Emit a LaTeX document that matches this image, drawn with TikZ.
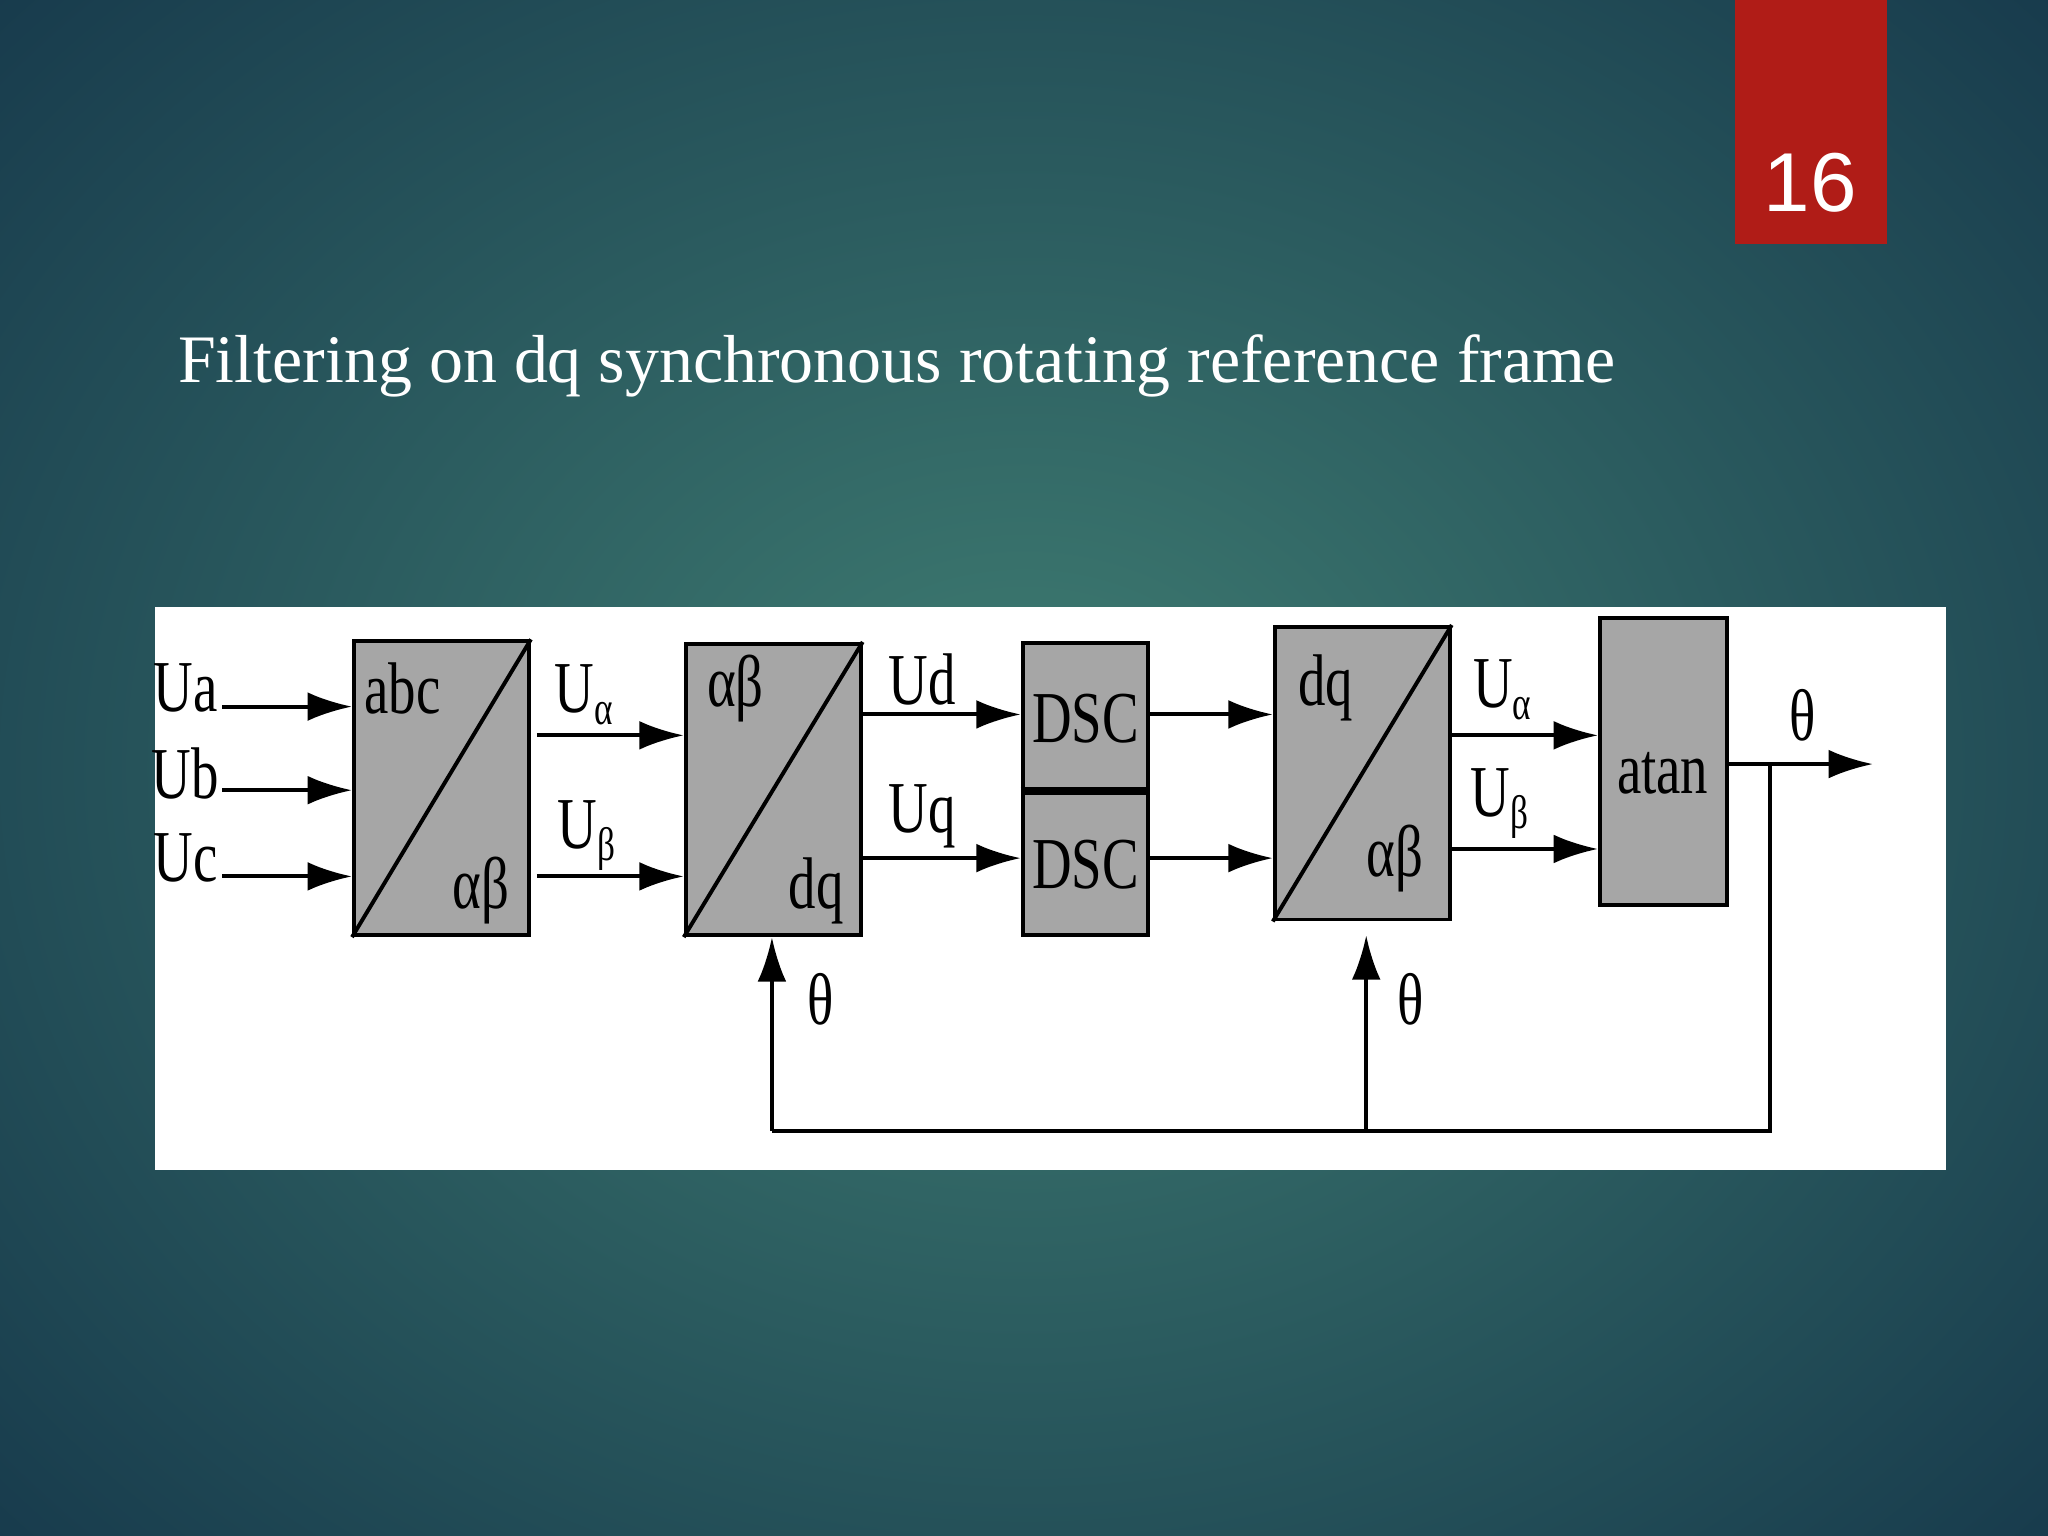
\documentclass[tikz,border=0pt]{standalone}
\usepackage{fontspec}
\setmainfont{Liberation Serif}
\newfontfamily\sansf{Liberation Sans}
\usetikzlibrary{arrows.meta}
\definecolor{bgin}{HTML}{3F7D72}
\definecolor{bgout}{HTML}{173A4C}
\definecolor{redbox}{HTML}{B01C17}
\definecolor{blkgray}{HTML}{A6A6A6}
\newcommand{\cnd}[1]{\scalebox{0.75}[1]{#1}}
\newcommand{\sub}[1]{\raisebox{-0.35ex}{\fontsize{18pt}{18pt}\selectfont #1}}
\tikzset{
 blk/.style={draw=black,line width=1.5pt,fill=blkgray,inner sep=0pt},
 lbl/.style={inner sep=0pt,font=\fontsize{28pt}{28pt}\selectfont},
 arr/.style={line width=1.5pt,-{Latex[length=17pt,width=11pt]}},
 ln/.style={line width=1.5pt}
}
\begin{document}
\begin{tikzpicture}[x=0.5pt,y=-0.5pt]
\useasboundingbox (0,0) rectangle (1568,1176);
\shade[inner color=bgin,outer color=bgout] (-300,-300) rectangle (1868,1476);
\clip (0,0) rectangle (1568,1176);
\node[fill=redbox,minimum width=58.5pt,minimum height=93.5pt,inner sep=0pt] (pg) at (1386.5,93.5) {};
\node[text=white,font=\sansf\fontsize{32pt}{32pt}\selectfont] (num) at (1386,140) {16};
\node[text=white,anchor=west,inner sep=0pt,font=\fontsize{26pt}{26pt}\selectfont] (title) at (136,280) {Filtering on dq synchronous rotating reference frame};
\node[fill=white,minimum width=685.5pt,minimum height=215.5pt,inner sep=0pt] (panel) at (804.5,680.5) {};
% blocks
\node[blk,minimum width=67pt,minimum height=112.5pt] (b1) at (338,603.5) {};
\draw[ln] (b1.south west) -- (b1.north east);
\node[blk,minimum width=67pt,minimum height=111.5pt] (b2) at (592,604.5) {};
\draw[ln] (b2.south west) -- (b2.north east);
\node[blk,minimum width=48pt,minimum height=56pt] (d1) at (831,548) {};
\node[blk,minimum width=48pt,minimum height=56pt] (d2) at (831,660) {};
\draw[line width=3pt] (d1.south west) -- (d1.south east);
\node[blk,minimum width=67pt,minimum height=112pt] (b4) at (1043,592) {};
\draw[ln] (b4.south west) -- (b4.north east);
\node[blk,minimum width=48.5pt,minimum height=110pt] (at) at (1273.5,583) {};
% block labels
\node[lbl] (t1) at (308,527) {\cnd{abc}};
\node[lbl] (t2) at (368,682) {\cnd{αβ}};
\node[lbl] (t3) at (563,527) {\cnd{αβ}};
\node[lbl] (t4) at (625,682) {\cnd{dq}};
\node[lbl] (t5) at (831,550) {\cnd{DSC}};
\node[lbl] (t6) at (831,662) {\cnd{DSC}};
\node[lbl] (t7) at (1015,527) {\cnd{dq}};
\node[lbl] (t8) at (1068,657) {\cnd{αβ}};
\node[lbl] (t9) at (1273,592) {\cnd{atan}};
% inputs
\node[lbl] (ua) at (142,527) {\cnd{Ua}};
\node[lbl] (ub) at (142,592) {\cnd{Ub}};
\node[lbl] (uc) at (142,657) {\cnd{Uc}};
\coordinate (ia) at (170,541); \coordinate (ib) at (170,605); \coordinate (ic) at (170,671);
\draw[arr] (ia) -- (ia -| b1.west);
\draw[arr] (ib) -- (ib -| b1.west);
\draw[arr] (ic) -- (ic -| b1.west);
% b1 -> b2
\coordinate (o1) at (411,563); \coordinate (o2) at (411,671);
\draw[arr] (o1) -- (o1 -| b2.west);
\draw[arr] (o2) -- (o2 -| b2.west);
\node[lbl] (lua) at (447,532) {\cnd{U\sub{α}}};
\node[lbl] (lub) at (449,640) {\cnd{U\sub{β}}};
% b2 -> dsc
\coordinate (o3) at (659,547); \coordinate (o4) at (659,657);
\draw[arr] (o3) -- (o3 -| d1.west);
\draw[arr] (o4) -- (o4 -| d2.west);
\node[lbl] (lud) at (706,520) {\cnd{Ud}};
\node[lbl] (luq) at (706,625) {\cnd{Uq}};
% dsc -> b4
\coordinate (o5) at (879,547); \coordinate (o6) at (879,657);
\draw[arr] (o5) -- (o5 -| b4.west);
\draw[arr] (o6) -- (o6 -| b4.west);
% b4 -> atan
\coordinate (o7) at (1110,563); \coordinate (o8) at (1110,650);
\draw[arr] (o7) -- (o7 -| at.west);
\draw[arr] (o8) -- (o8 -| at.west);
\node[lbl] (lua2) at (1150,528) {\cnd{U\sub{α}}};
\node[lbl] (lub2) at (1148,615) {\cnd{U\sub{β}}};
% output
\coordinate (o9) at (1322,585); \coordinate (out) at (1434,585);
\draw[arr] (o9) -- (out);
\node[lbl] (lth) at (1380,548) {\cnd{θ}};
\coordinate (br) at (1355,585);
\coordinate (c1) at (1355,866); \coordinate (c2) at (591,866); \coordinate (c3) at (1046,866);
\draw[ln] (br) -- (c1) -- (c2);
\draw[arr] (c2) -- (c2 |- b2.south);
\draw[arr] (c3) -- (1046,716);
\node[lbl] (th1) at (628,765) {\cnd{θ}};
\node[lbl] (th2) at (1080,765) {\cnd{θ}};
\end{tikzpicture}
\end{document}
